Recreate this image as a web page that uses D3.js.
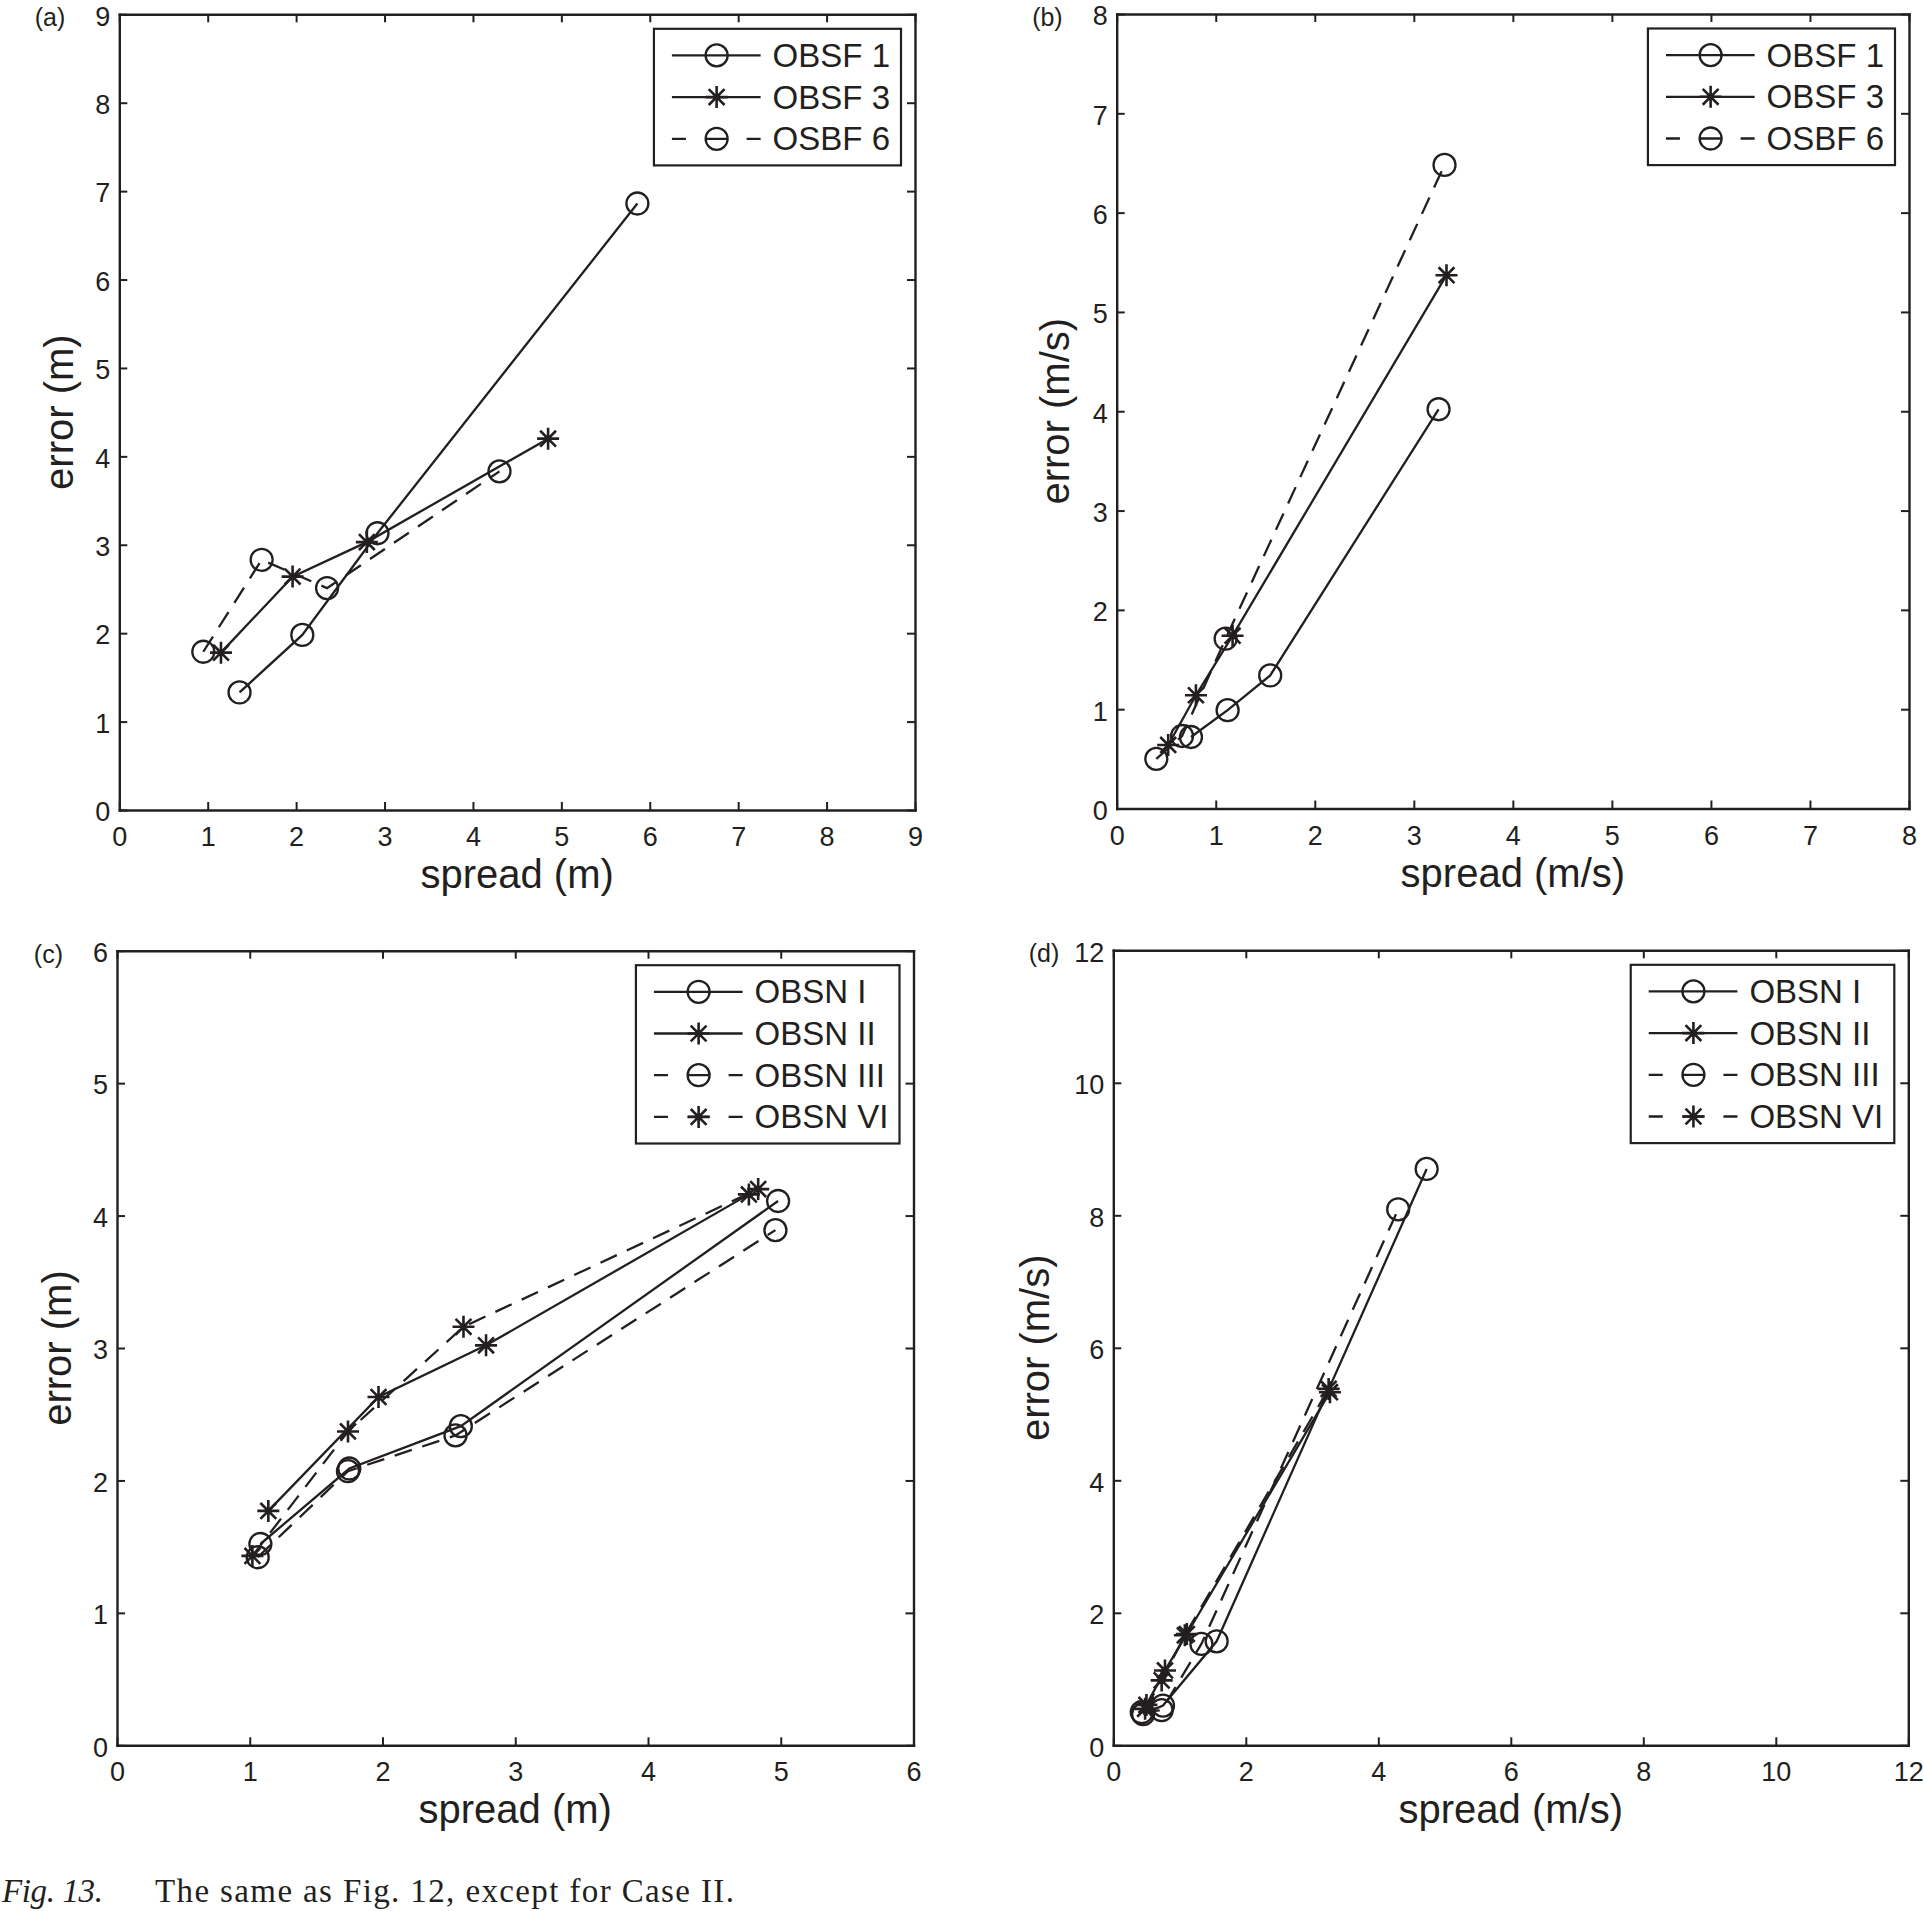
<!DOCTYPE html>
<html>
<head>
<meta charset="utf-8">
<script src="https://cdn.jsdelivr.net/npm/d3@7"></script>
<style>
  body { margin: 0; background: #fff; }
</style>
</head>
<body>
<svg id="fig" width="1924" height="1911"></svg>
<script>
// (a) spread vs error, m
const aObsf1 = [[1.36, 1.33], [2.07, 1.98], [2.92, 3.13], [5.86, 6.86]]
const aObsf3 = [[1.15, 1.78], [1.96, 2.64], [2.80, 3.03], [4.85, 4.20]]
const aOsbf6 = [[0.95, 1.79], [1.61, 2.83], [2.35, 2.51], [4.30, 3.83]]
// (b) spread vs error, m/s
const bObsf1 = [[0.75, 0.72], [1.12, 0.99], [1.55, 1.34], [3.25, 4.02]]
const bObsf3 = [[0.52, 0.64], [0.80, 1.14], [1.17, 1.74], [3.33, 5.37]]
const bOsbf6 = [[0.40, 0.50], [0.66, 0.73], [1.10, 1.71], [3.31, 6.48]]
// (c) spread vs error, m
const cObsnI = [[1.08, 1.52], [1.75, 2.09], [2.59, 2.41], [4.98, 4.11]]
const cObsnII = [[1.14, 1.77], [1.97, 2.63], [2.78, 3.02], [4.76, 4.16]]
const cObsnIII = [[1.06, 1.42], [1.74, 2.07], [2.55, 2.34], [4.96, 3.89]]
const cObsnVI = [[1.02, 1.43], [1.74, 2.37], [2.61, 3.16], [4.83, 4.20]]
// (d) spread vs error, m/s
const dObsnI = [[0.45, 0.47], [0.75, 0.60], [1.56, 1.57], [4.73, 8.70]]
const dObsnII = [[0.50, 0.61], [0.78, 1.13], [1.11, 1.68], [3.27, 5.33]]
const dObsnIII = [[0.43, 0.50], [0.73, 0.53], [1.33, 1.53], [4.30, 8.09]]
const dObsnVI = [[0.48, 0.55], [0.73, 0.98], [1.08, 1.66], [3.25, 5.38]]

const namesAB = ['OBSF 1', 'OBSF 3', 'OSBF 6']
const namesCD = ['OBSN I', 'OBSN II', 'OBSN III', 'OBSN VI']
const marksAB = ['o', '*', 'o']
const marksCD = ['o', '*', 'o', '*']
const dashAB = [false, false, true]
const dashCD = [false, false, true, true]

const ticksA = [0, 1, 2, 3, 4, 5, 6, 7, 8, 9]
const ticksB = [0, 1, 2, 3, 4, 5, 6, 7, 8]
const ticksC = [0, 1, 2, 3, 4, 5, 6]
const ticksD = [0, 2, 4, 6, 8, 10, 12]

const ink = '#231f20'
const sans = '"Liberation Sans", Arial, Helvetica, sans-serif'
const serif = '"Liberation Serif", "Times New Roman", serif'
const tickFont = 27
const svg = d3.select('#fig')
const plots = svg.append('g').attr('transform', 'translate(0,2)')

const panels = [
  { tag: '(a)', box: { left: 119.3, top: 12.3, right: 915, bottom: 808 }, ticks: ticksA,
    xLabel: 'spread (m)', yLabel: 'error (m)', yOff: 46,
    data: [aObsf1, aObsf3, aOsbf6], names: namesAB, marks: marksAB, dash: dashAB },
  { tag: '(b)', box: { left: 1116.7, top: 12, right: 1909, bottom: 806.5 }, ticks: ticksB,
    xLabel: 'spread (m/s)', yLabel: 'error (m/s)', yOff: 48,
    data: [bObsf1, bObsf3, bOsbf6], names: namesAB, marks: marksAB, dash: dashAB },
  { tag: '(c)', box: { left: 117, top: 948.7, right: 913.5, bottom: 1743.3 }, ticks: ticksC,
    xLabel: 'spread (m)', yLabel: 'error (m)', yOff: 46,
    data: [cObsnI, cObsnII, cObsnIII, cObsnVI], names: namesCD, marks: marksCD, dash: dashCD },
  { tag: '(d)', box: { left: 1113.3, top: 948.3, right: 1908.3, bottom: 1743.3 }, ticks: ticksD,
    xLabel: 'spread (m/s)', yLabel: 'error (m/s)', yOff: 64,
    data: [dObsnI, dObsnII, dObsnIII, dObsnVI], names: namesCD, marks: marksCD, dash: dashCD }
]

function starPath (s) {
  const d = s * 0.72
  return `M${-s},0H${s}M0,${-s}V${s}M${-d},${-d}L${d},${d}M${-d},${d}L${d},${-d}`
}

function addMarker (sel, kind) {
  if (kind === 'o') {
    sel.append('circle').attr('r', 11)
      .attr('fill', 'none').attr('stroke', ink).attr('stroke-width', 2.3)
  } else {
    sel.append('path').attr('d', starPath(11))
      .attr('fill', 'none').attr('stroke', ink).attr('stroke-width', 2.6)
  }
}

function styleAxis (g, size) {
  g.attr('font-size', size).attr('font-family', sans).attr('color', ink)
  g.select('.domain').attr('stroke-width', 2.4).attr('stroke-linecap', 'square')
  g.selectAll('.tick line').attr('stroke-width', 2)
  g.selectAll('.tick text').attr('fill', ink)
}

function drawPanel (p) {
  const b = p.box
  const max = p.ticks[p.ticks.length - 1]
  const x = d3.scaleLinear().domain([0, max]).range([b.left, b.right])
  const y = d3.scaleLinear().domain([0, max]).range([b.bottom, b.top])
  const fmt = d3.format('d')
  const g = plots.append('g')

  // data lines and markers
  const line = d3.line().x(d => x(d[0])).y(d => y(d[1]))
  p.data.forEach((pts, i) => {
    g.append('path').datum(pts)
      .attr('d', line)
      .attr('fill', 'none')
      .attr('stroke', ink)
      .attr('stroke-width', 2.3)
      .attr('stroke-dasharray', p.dash[i] ? '18,11' : null)
    g.selectAll(null).data(pts).enter().append('g')
      .attr('transform', d => `translate(${x(d[0])},${y(d[1])})`)
      .each(function () { addMarker(d3.select(this), p.marks[i]) })
  })

  // box axes, ticks inward
  g.append('g').attr('transform', `translate(0,${b.bottom})`)
    .call(d3.axisBottom(x).tickValues(p.ticks).tickFormat(fmt).tickSize(-8).tickSizeOuter(0).tickPadding(17))
    .call(a => styleAxis(a, tickFont))
  g.append('g').attr('transform', `translate(${b.left},0)`)
    .call(d3.axisLeft(y).tickValues(p.ticks).tickFormat(fmt).tickSize(-8).tickSizeOuter(0).tickPadding(9))
    .call(a => styleAxis(a, tickFont))
    .call(a => a.selectAll('.tick text').attr('dy', '0.4em'))
  g.append('g').attr('transform', `translate(0,${b.top})`)
    .call(d3.axisTop(x).tickValues(p.ticks).tickSize(-8).tickSizeOuter(0).tickFormat(''))
    .call(a => styleAxis(a, tickFont))
  g.append('g').attr('transform', `translate(${b.right},0)`)
    .call(d3.axisRight(y).tickValues(p.ticks).tickSize(-8).tickSizeOuter(0).tickFormat(''))
    .call(a => styleAxis(a, tickFont))

  // axis titles
  g.append('text')
    .attr('x', (b.left + b.right) / 2).attr('y', b.bottom + 78)
    .attr('text-anchor', 'middle')
    .attr('font-family', sans).attr('font-size', 40).attr('fill', ink)
    .text(p.xLabel)
  g.append('text')
    .attr('transform', `translate(${b.left - p.yOff},${(b.top + b.bottom) / 2}) rotate(-90)`)
    .attr('text-anchor', 'middle')
    .attr('font-family', sans).attr('font-size', 40).attr('fill', ink)
    .text(p.yLabel)

  // panel tag
  g.append('text')
    .attr('x', b.left - 54).attr('y', b.top + 12)
    .attr('text-anchor', 'end')
    .attr('font-family', sans).attr('font-size', 25).attr('fill', ink)
    .text(p.tag)

  // legend
  const rowY = i => 26.6 + 41.7 * i
  const lg = g.append('g')
  const frame = lg.append('rect')
    .attr('fill', '#fff').attr('stroke', ink).attr('stroke-width', 2.2)
  const labels = lg.selectAll(null).data(p.names).enter().append('text')
    .attr('x', 118.7).attr('y', (d, i) => rowY(i)).attr('dy', '0.35em')
    .attr('font-family', sans).attr('font-size', 33).attr('fill', ink)
    .text(d => d)
  let widest = 0
  labels.each(function () { widest = Math.max(widest, this.getComputedTextLength()) })
  const w = 118.7 + widest + 11
  const h = rowY(p.names.length - 1) + 26.6
  frame.attr('width', w).attr('height', h)
  lg.attr('transform', `translate(${b.right - 14 - w},${b.top + 14.5})`)
  p.names.forEach((n, i) => {
    lg.append('line')
      .attr('x1', 18).attr('x2', 106.7).attr('y1', rowY(i)).attr('y2', rowY(i))
      .attr('stroke', ink).attr('stroke-width', 2.3)
      .attr('stroke-dasharray', p.dash[i] ? '14,19.7,22,19,14' : null)
    const m = lg.append('g').attr('transform', `translate(62.7,${rowY(i)})`)
    addMarker(m, p.marks[i])
  })
}

panels.forEach(drawPanel)

// caption
svg.append('text')
  .attr('x', 2).attr('y', 1902)
  .attr('font-family', serif).attr('font-size', 33).attr('font-style', 'italic')
  .attr('fill', ink)
  .attr('textLength', 101).attr('lengthAdjust', 'spacing')
  .text('Fig. 13.')
svg.append('text')
  .attr('x', 155).attr('y', 1902)
  .attr('font-family', serif).attr('font-size', 33)
  .attr('fill', ink)
  .attr('textLength', 579).attr('lengthAdjust', 'spacing')
  .text('The same as Fig. 12, except for Case II.')
</script>
</body>
</html>
